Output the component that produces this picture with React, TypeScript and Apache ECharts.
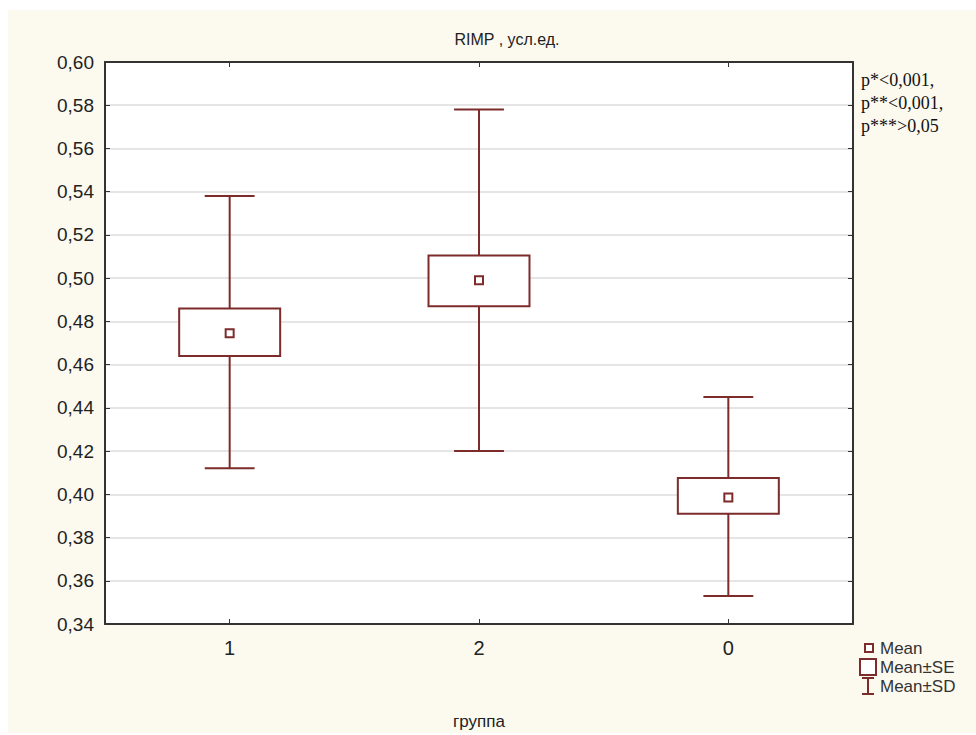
import React, { useEffect, useRef } from "react";
import * as echarts from "echarts";

const categories = ["1", "2", "0"];
const means = [0.4745, 0.499, 0.3985];
const seLow = [0.464, 0.487, 0.391];
const seHigh = [0.486, 0.5105, 0.4075];
const sdLow = [0.412, 0.42, 0.353];
const sdHigh = [0.538, 0.578, 0.445];
const yMin = 0.34;
const yMax = 0.6;
const yStep = 0.02;
const titleText = "RIMP , усл.ед.";
const xName = "группа";
const pNotes = ["p*<0,001,", "p**<0,001,", "p***>0,05"];
const legendLabels = ["Mean", "Mean±SE", "Mean±SD"];

const RED = "#7d2b2b";
const SANS = "Liberation Sans, Arial, sans-serif";

export default function App() {
  const ref = useRef<HTMLDivElement>(null);
  useEffect(() => {
    if (!ref.current) return;
    const chart = echarts.init(ref.current, null, { renderer: "svg" });
    const data = categories.map((_, i) => [i, means[i], seLow[i], seHigh[i], sdLow[i], sdHigh[i]]);
    const fmt = (v: number) => v.toFixed(2).replace(".", ",");
    const legY = [648, 667, 686];
    const option: any = {
      animation: false,
      backgroundColor: "transparent",
      grid: { left: 105, right: 123, top: 62, bottom: 107, show: true, backgroundColor: "#ffffff", borderWidth: 0 },
      xAxis: [
        {
          type: "category",
          data: categories,
          position: "bottom",
          axisLine: { show: true, lineStyle: { color: "#333", width: 2 } },
          axisTick: { show: true, inside: true, alignWithLabel: true, length: 5, lineStyle: { color: "#333" } },
          axisLabel: { fontSize: 20, color: "#222", margin: 14, fontFamily: SANS },
          splitLine: { show: false },
          name: xName,
          nameLocation: "middle",
          nameGap: 89,
          nameTextStyle: { fontSize: 17, color: "#222", fontFamily: SANS },
        },
        {
          type: "category",
          data: categories,
          position: "top",
          axisLine: { show: true, lineStyle: { color: "#333", width: 2 } },
          axisTick: { show: true, inside: true, alignWithLabel: true, length: 5, lineStyle: { color: "#333" } },
          axisLabel: { show: false },
          splitLine: { show: false },
        },
      ],
      yAxis: [
        {
          type: "value",
          min: yMin,
          max: yMax,
          interval: yStep,
          position: "left",
          axisLine: { show: true, lineStyle: { color: "#333", width: 2 } },
          axisTick: { show: true, inside: true, length: 5, lineStyle: { color: "#333" } },
          axisLabel: { fontSize: 19, color: "#222", margin: 11, fontFamily: SANS, formatter: fmt },
          splitLine: { show: true, lineStyle: { color: "#dddddd", width: 1.5 } },
        },
        {
          type: "value",
          min: yMin,
          max: yMax,
          interval: yStep,
          position: "right",
          axisLine: { show: true, lineStyle: { color: "#333", width: 2 } },
          axisTick: { show: true, inside: true, length: 5, lineStyle: { color: "#333" } },
          axisLabel: { show: false },
          splitLine: { show: false },
        },
      ],
      graphic: [
        { type: "rect", z: -100, silent: true, shape: { x: 8, y: 10, width: 968, height: 723 }, style: { fill: "#fcf9ef" } },
        { type: "text", x: 507, y: 39, style: { text: titleText, fontSize: 16, fontFamily: SANS, fill: "#222", align: "center", verticalAlign: "middle" } },
        ...pNotes.map((t, i) => ({
          type: "text",
          x: 861,
          y: 80 + i * 23,
          style: { text: t, fontSize: 18, fontFamily: "Liberation Serif, Times New Roman, serif", fill: "#111", verticalAlign: "middle" },
        })),
        { type: "rect", shape: { x: 865, y: legY[0] - 4, width: 8, height: 8 }, style: { fill: "#fff", stroke: RED, lineWidth: 2 } },
        { type: "rect", shape: { x: 860, y: legY[1] - 8, width: 16, height: 16 }, style: { fill: "#fff", stroke: RED, lineWidth: 2 } },
        { type: "line", shape: { x1: 868, y1: legY[2] - 8, x2: 868, y2: legY[2] + 8 }, style: { stroke: RED, lineWidth: 2 } },
        { type: "line", shape: { x1: 862, y1: legY[2] - 8, x2: 874, y2: legY[2] - 8 }, style: { stroke: RED, lineWidth: 2 } },
        { type: "line", shape: { x1: 862, y1: legY[2] + 8, x2: 874, y2: legY[2] + 8 }, style: { stroke: RED, lineWidth: 2 } },
        ...legendLabels.map((t, i) => ({
          type: "text",
          x: 880,
          y: legY[i],
          style: { text: t, fontSize: 17, fontFamily: SANS, fill: "#333", verticalAlign: "middle" },
        })),
      ],
      series: [
        {
          type: "custom",
          xAxisIndex: 0,
          yAxisIndex: 0,
          data,
          renderItem: (params: any, api: any) => {
            const x = api.value(0);
            const m = api.coord([x, api.value(1)]);
            const seL = api.coord([x, api.value(2)]);
            const seH = api.coord([x, api.value(3)]);
            const sdL = api.coord([x, api.value(4)]);
            const sdH = api.coord([x, api.value(5)]);
            const band = api.size([1, 0])[0];
            const boxW = band * 0.405;
            const capW = band * 0.2;
            const cx = m[0];
            const st = { stroke: RED, lineWidth: 2, fill: "none" };
            return {
              type: "group",
              children: [
                { type: "line", shape: { x1: cx, y1: sdH[1], x2: cx, y2: seH[1] }, style: st },
                { type: "line", shape: { x1: cx, y1: seL[1], x2: cx, y2: sdL[1] }, style: st },
                { type: "line", shape: { x1: cx - capW / 2, y1: sdH[1], x2: cx + capW / 2, y2: sdH[1] }, style: st },
                { type: "line", shape: { x1: cx - capW / 2, y1: sdL[1], x2: cx + capW / 2, y2: sdL[1] }, style: st },
                { type: "rect", shape: { x: cx - boxW / 2, y: seH[1], width: boxW, height: seL[1] - seH[1] }, style: { stroke: RED, lineWidth: 2, fill: "#fff" } },
                { type: "rect", shape: { x: cx - 4, y: m[1] - 4, width: 8, height: 8 }, style: { stroke: RED, lineWidth: 2, fill: "#fff" } },
              ],
            };
          },
        },
      ],
    };
    chart.setOption(option);
    return () => chart.dispose();
  }, []);
  return (
    <div style={{ position: "fixed", left: 0, top: 0, width: 976, height: 735, background: "#ffffff" }}>
      <div ref={ref} style={{ width: 976, height: 735 }} />
    </div>
  );
}
